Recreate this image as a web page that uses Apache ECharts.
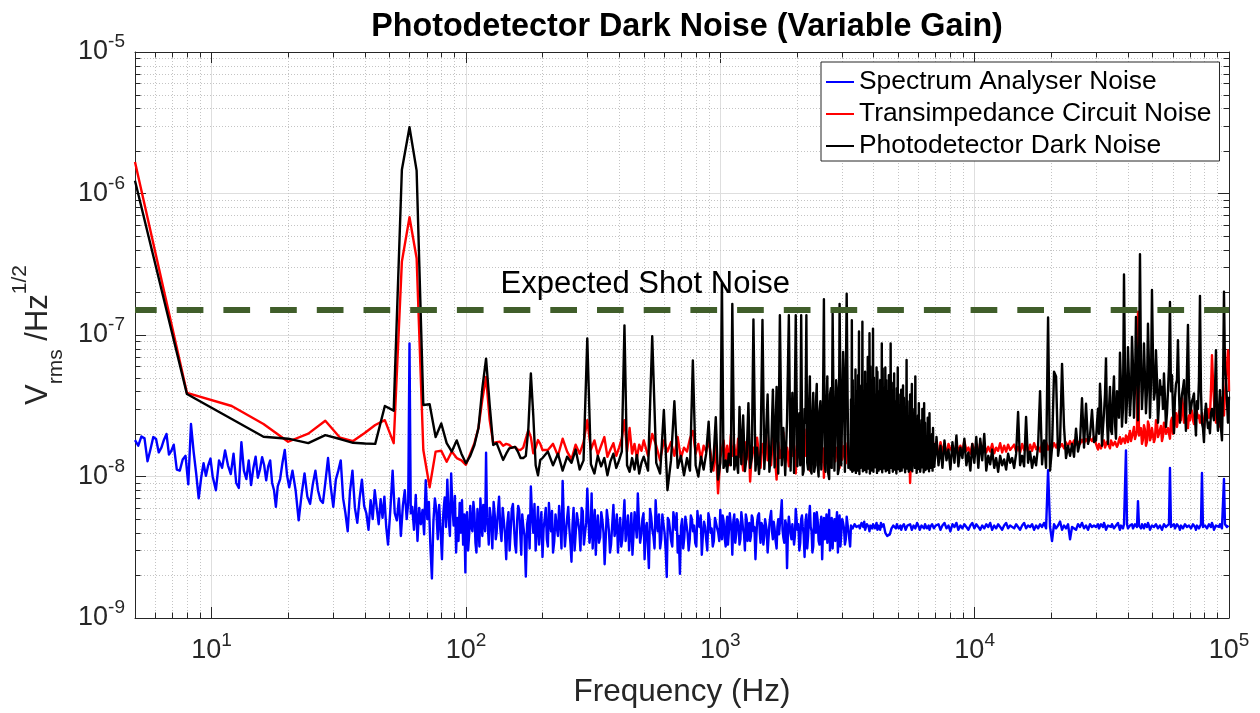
<!DOCTYPE html>
<html>
<head>
<meta charset="utf-8">
<script src="https://cdn.jsdelivr.net/npm/echarts@6/dist/echarts.min.js"></script>
<style>
html,body{margin:0;padding:0;background:#ffffff;}
#chart{width:1260px;height:713px;}
</style>
</head>
<body>
<div id="chart"></div>
<script>
// ---------------- text ----------------
const titleText = 'Photodetector Dark Noise (Variable Gain)';
const seriesNames = ['Spectrum Analyser Noise', 'Transimpedance Circuit Noise', 'Photodetector Dark Noise'];
const xName = 'Frequency (Hz)';
const shotLabel = 'Expected Shot Noise';

// ---------------- axes ----------------
const xRange = [5, 100000];          // Hz
const yRange = [1e-9, 1e-5];         // V/sqrt(Hz)
const minorXTicks = [6,7,8,9,20,30,40,50,60,70,80,90,200,300,400,500,600,700,800,900,
  2000,3000,4000,5000,6000,7000,8000,9000,20000,30000,40000,50000,60000,70000,80000,90000];
const minorYTicks = [2e-9,3e-9,4e-9,5e-9,6e-9,7e-9,8e-9,9e-9,2e-8,3e-8,4e-8,5e-8,6e-8,7e-8,8e-8,9e-8,
  2e-7,3e-7,4e-7,5e-7,6e-7,7e-7,8e-7,9e-7,2e-6,3e-6,4e-6,5e-6,6e-6,7e-6,8e-6,9e-6];

// ---------------- data (values in nV/sqrt(Hz)) ----------------
const NV = 1e-9;
const shotNoise = 150;              // nV/sqrt(Hz)
const shotLabelAt = [507, 226];     // [Hz, nV/sqrt(Hz)]

// spectrum analyser, 5 Hz - 1 kHz : [f, blue]
const blueLow = [
[5,18.1],[5.15,16.5],[5.3,19.2],[5.45,18.6],[5.6,12.8],[5.75,15.5],[5.9,19.0],[6.05,18.4],[6.2,14.8],[6.35,16.0],
[6.5,18.2],[6.65,20.0],[6.8,14.3],[6.95,15.2],[7.1,16.8],[7.3,11.2],[7.5,11.0],[7.7,13.2],[7.9,14.0],[8.1,8.8],
[8.3,23.5],[8.5,15.0],[8.7,10.5],[8.9,7.0],[9.1,9.8],[9.3,12.4],[9.5,10.1],[9.7,12.0],[9.9,13.4],
[10.1,10.0],[10.4,8.0],[10.7,13.0],[11,11.5],[11.3,15.3],[11.6,12.0],[11.9,10.4],[12.2,14.5],[12.5,9.0],[12.8,8.3],
[13.1,17.5],[13.4,11.0],[13.7,9.6],[14,13.0],[14.3,8.7],[14.6,11.5],[14.9,13.8],[15.2,9.8],[15.5,11.2],[15.8,13.7],
[16.1,12.0],[16.4,9.4],[16.7,11.8],[17,13.0],[17.3,9.0],[17.6,8.0],[17.9,6.1],[18.2,8.5],[18.6,9.6],[19,12.5],
[19.4,15.4],[19.8,10.2],
[20.2,8.4],[20.8,11.0],[21.4,8.0],[22,4.9],[22.6,7.5],[23.2,10.5],[23.8,7.2],[24.4,6.4],[25,8.8],[25.6,11.0],
[26.2,8.0],[26.8,6.8],[27.4,6.5],[28,9.0],[28.7,13.5],[29.4,8.5],[30.1,6.1],[30.8,9.5],[31.5,11.0],[32.2,13.0],
[32.9,7.0],[33.6,5.5],[34.3,4.1],[35,7.8],[35.8,11.0],[36.6,6.0],[37.4,4.7],[38.2,7.0],[39,9.5],[39.8,6.2],
[40.6,5.5],[41.4,4.2],[42.2,6.8],[43,5.0],[43.8,8.0],[44.6,6.0],[45.4,4.6],[46.2,6.9],[47,5.1],[47.8,7.2],
[48.6,4.4],[49.4,3.3],
[50.5,6.0],[51.5,11.0],[52.5,5.5],[53.5,4.9],[54.5,7.0],[55.5,3.8],[56.5,6.2],[57.5,8.0],[58.5,5.0],[59.3,6.5],
[60,87],[60.7,5.5],[61.5,6.1],[62.5,4.2],[63.5,7.4],[64.5,3.5],[65.5,6.0],[66.5,4.6],[67.5,5.8],[68.5,3.9],
[69.5,9.4],[70.5,5.0],[71.5,6.6],[72.5,3.2],[73.5,1.9],[74.5,4.8],[75.5,7.0],[76.5,5.8],[77.5,3.6],[78.5,6.3],
[79.5,4.2],[80.5,2.6],[81.5,5.5],[82.5,7.1],[83.5,4.4],[84.5,9.5],[85.5,5.2],[86.5,3.8],[87.5,10.5],[88.5,6.0],
[89.5,4.5],[90.5,7.3],[91.5,2.9],[92.5,5.1],[93.5,3.5],[94.5,6.5],[95.5,4.0],[96.5,6.8],[97.5,3.3],[98.5,5.4],
[99.5,2.1],
[100,4.8],[102,3.0],[104,6.2],[106,4.1],[108,5.5],[110,2.9],[112,4.6],[114,7.0],[116,3.8],[118,5.0],
[120,14.7],[122,4.4],[124,6.0],[127,3.1],[130,5.2],[132,4.0],[135,7.2],[138,3.5],[141,4.8],[144,2.6],
[147,5.6],[150,4.2],[153,6.4],[156,3.3],[159,4.9],[162,5.8],[165,2.8],[168,4.5],[172,1.96],[176,5.3],
[180,8.5],[184,4.0],[188,3.0],[192,6.1],[196,4.4],[200,2.7],[204,5.0],[208,3.6],[212,6.5],[216,4.1],
[220,2.9],[225,5.4],[230,3.8],[235,4.7],[240,9.3],[245,3.2],[250,5.1],[255,4.3],[260,2.5],[265,6.0],
[270,3.9],[276,4.8],[282,3.0],[288,5.7],[294,4.0],[300,8.2],[306,3.4],[312,7.6],[318,4.5],[324,2.8],
[330,5.3],[337,3.7],[344,4.9],[351,2.4],[358,5.8],[365,4.1],[372,3.3],[380,6.3],[388,4.2],[396,2.9],
[404,5.1],[412,3.6],[420,6.8],[429,4.3],[438,3.0],[447,5.5],[456,3.9],[465,4.6],[474,7.6],[484,3.4],
[494,5.0],[504,2.6],[514,4.7],[524,2.25],[535,5.2],[546,3.8],[557,6.8],[568,4.1],[580,3.1],[592,5.4],
[604,4.0],[616,1.95],[628,4.9],[641,3.5],[654,5.6],[667,4.2],[680,2.9],[694,2.05],[708,5.0],[722,3.7],
[736,4.6],[751,3.0],[766,5.3],[781,4.1],[797,3.4],[813,5.7],[829,4.4],[846,2.8],[863,4.8],[880,3.6],
[898,5.5],[916,4.0],[934,3.2],[953,5.1],[972,4.3],[991,3.5]
];
// extra readings between the ones above, 100 Hz - 1 kHz : [f, blue]
const blueLowFill = [
[101,5.6],[103,3.9],[105,4.4],[107,6.6],[109,3.4],[111,5.9],[113,3.2],[115,4.9],[117,6.3],[119,4.1],
[121,5.1],[123,3.3],[125.5,5.0],[128.5,6.6],[131,3.6],[133.5,5.5],[136.5,4.3],[139.5,6.0],[142.5,3.9],[145.5,4.7],
[148.5,3.0],[151.5,5.9],[154.5,4.5],[157.5,2.9],[160.5,6.2],[163.5,4.0],[166.5,5.4],[170,3.8],[174,4.6],[178,3.1],
[182,5.3],[186,6.4],[190,4.2],[194,3.3],[198,5.6],[202,4.3],[206,6.0],[210,3.2],[214,4.8],[218,5.7],
[222.5,3.5],[227.5,4.4],[232.5,6.2],[237.5,3.1],[242.5,5.0],[247.5,4.1],[252.5,6.1],[257.5,3.4],[262.5,4.6],[267.5,3.0],
[273,5.5],[279,4.2],[285,6.0],[291,3.3],[297,4.7],[303,5.2],[309,4.0],[315,3.1],[321,5.8],[327,4.3],
[333.5,3.4],[340.5,5.6],[347.5,4.0],[354.5,3.6],[361.5,5.0],[368.5,2.9],[376,4.6],[384,3.8],[392,5.4],[400,4.1],
[408,3.2],[416,5.0],[424.5,3.5],[433.5,5.3],[442.5,4.0],[451.5,2.8],[460.5,5.6],[469.5,3.7],[479,4.8],[489,3.9],
[499,5.5],[509,4.3],[519,3.3],[529.5,5.9],[540.5,4.2],[551.5,3.1],[562.5,4.7],[574,5.4],[586,3.6],[598,4.6],
[610,3.0],[622,5.1],[634.5,4.2],[647.5,3.2],[660.5,4.9],[673.5,5.5],[687,3.8],[701,4.4],[715,3.1],[729,5.2],
[743.5,4.0],[758.5,3.6],[773.5,5.0],[789,4.5],[805,3.2],[821,4.6],[837.5,5.3],[854.5,3.9],[871.5,4.4],[889,3.0],
[907,5.0],[925,4.3],[943.5,3.5],[962.5,4.7],[981.5,4.0]
];
// extra spectrum analyser readings, 1 kHz - 2 kHz : [f, blue]
const blueHiFill = [
[1007,4.2],[1022,5.3],[1040,3.7],[1057,4.6],[1072,3.3],[1090,5.5],[1107,4.1],[1125,4.8],[1145,3.4],[1165,5.0],
[1182,4.3],[1200,3.6],[1220,4.9],[1240,3.9],[1260,5.4],[1280,3.5],[1300,4.7],[1320,3.8],[1340,5.1],[1362,4.4],
[1385,3.6],[1407,5.3],[1430,4.0],[1452,4.7],[1477,3.3],[1500,5.0],[1522,4.2],[1547,3.6],[1572,5.2],[1597,4.1],
[1622,4.8],[1650,3.5],[1677,4.4],[1702,3.9],[1730,5.5],[1757,4.2],[1785,3.4],[1815,4.6],[1845,4.0],[1875,5.3],
[1905,3.6],[1935,4.5],[1965,3.8],[1995,5.0]
];

// transimpedance / dark noise, 5 Hz - 1 kHz : [f, red, black]
const rbLow = [
[5,1670,1230],[8,39,38.3],[12,31.5,25.5],[16,23.5,19.1],[20,17.6,18.5],[24,20.1,17.2],[28,24.8,19.6],[32,18.8,18.4],
[36,17.8,17.3],[40,20.3,17.1],[44,23.1,17.0],[48,25,31.5],[52,17.2,29.2],[56,330,1470],[60,679,2940],[64,349,1450],
[68,15.4,32],[72,8.4,32.4],[76,15,19.0],[80,15.2,23.7],[84,12.7,17.2],[88,15,15.0],[92,13.5,18.0],[96,13.0,14.5],
[100,12.1,12.4],[104,14.5,14.0],[108,17.2,16.7],[112,22,22],[116,35,42],[120,50.6,68],[124,25,32],[128,17.2,16.7],
[132,17.5,17.2],[136,17.6,15.0],[140,16.5,13.1],[144,17.0,14.5],[148,16.7,15.8],[152,16.0,16.0],[156,16.2,16.2],
[160,15.5,15.0],[164,15.4,13.5],[168,16.0,13.5],[172,18.5,14.0],[176,21.2,22],[180,19,53.5],[184,14.6,27],
[188,16.0,12],[192,18.1,10.2],[196,17.0,13.1],[200,15.4,13.5],
[210,15.4,15.0],[220,17.0,12.0],[230,14.0,14.5],[240,18.5,11.0],[250,15.0,13.8],[260,13.2,12.5],[270,16.8,15.5],
[280,14.5,11.2],[290,17.5,13.0],[300,25,94.6],[310,15.5,12.2],[320,18.0,10.5],[330,14.2,14.0],[340,16.5,11.8],
[350,19.0,13.5],[360,13.8,10.2],[370,15.5,12.8],[380,17.2,14.5],[390,14.0,11.5],[400,16.0,13.0],[410,18.5,15.0],
[420,25,117],[430,15.0,12.0],[440,22,10.8],[450,14.5,13.5],[460,17.0,11.2],[470,13.5,14.2],[480,16.8,10.5],
[490,15.2,12.5],[500,18.0,13.8],[520,14.0,11.0],[540,20,98],[560,16.5,12.5],[580,13.0,10.5],[600,18,29.5],
[620,15.0,8.0],[640,17.5,13.0],[660,14.0,34],[680,19.0,11.5],[700,13.5,14.0],[720,16.0,10.2],[740,15.0,13.5],
[760,18.5,11.0],[780,21,66],[800,14.5,12.0],[820,17.0,10.0],[840,13.2,13.8],[860,16.5,11.2],[880,15.0,14.5],
[900,18.0,24.4],[920,14.0,10.8],[940,11.0,13.0],[960,16.5,26.2],[980,7.6,9.5]
];

// 1 kHz - 3.2 kHz : [f, blue, red, black]
const band1 = [
[1000,5.8,13.5,12.5],[1015,3.6,15.5,232],[1030,4.9,18.0,11.5],[1050,3.2,13.0,13.0],[1065,5.2,16.5,10.8],
[1080,4.0,12.0,14.5],[1100,4.6,19.5,12.0],[1115,2.8,14.0,166],[1135,5.4,16.8,11.2],[1155,3.9,12.5,13.8],
[1175,4.8,18.5,10.6],[1190,3.3,13.8,31],[1210,5.6,15.0,12.2],[1230,4.2,11.0,27],[1250,3.0,17.5,10.9],
[1270,5.0,13.2,14.0],[1290,4.4,20.0,33],[1310,3.5,9.2,11.5],[1330,5.3,14.5,13.5],[1350,4.1,16.0,129],
[1375,2.6,12.8,11.0],[1395,4.7,18.8,16.0],[1420,5.5,14.2,10.4],[1440,3.4,11.5,14.8],[1465,4.5,17.0,128],
[1490,3.8,15.0,11.3],[1510,5.1,21.0,18.0],[1535,2.9,13.0,38],[1560,4.6,16.2,10.8],[1585,5.7,12.0,15.5],
[1610,3.6,19.0,41],[1635,4.3,14.8,11.6],[1665,3.1,9.5,43],[1690,5.0,17.5,10.5],[1715,4.0,13.5,138],
[1745,6.8,15.8,12.0],[1770,3.7,20.5,22],[1800,4.9,12.6,10.2],[1830,2.25,16.0,25],[1860,5.2,11.8,138],
[1890,3.9,18.0,11.0],[1920,4.6,14.0,39],[1950,3.3,16.5,10.6],[1980,5.9,10.5,138],[2010,4.2,19.5,11.8],
[2045,3.0,13.6,28],[2080,5.0,15.5,138],[2110,4.4,12.2,10.3],[2145,2.7,21.5,30],[2180,5.4,14.5,138],
[2215,3.8,17.0,11.2],[2250,6.2,11.0,51],[2285,4.1,16.0,10.5],[2320,3.2,22.5,39],[2360,4.8,13.0,12.0],
[2395,5.6,18.5,45],[2435,3.5,12.0,10.0],[2475,4.5,16.8,34],[2515,2.6,14.0,11.5],[2555,5.1,9.8,179],
[2595,4.0,19.0,10.8],[2635,3.4,13.5,51],[2680,5.8,17.2,9.6],[2720,4.3,12.5,42],[2765,3.1,15.5,142],
[2810,5.0,18.0,11.0],[2855,4.6,13.0,48],[2900,2.9,16.0,10.4],[2945,5.3,11.5,166],[2990,3.9,17.8,12.0],
[3040,4.7,14.2,76],[3090,3.3,16.5,10.8],[3140,5.2,12.8,196],[3190,4.1,15.5,11.5]
];
const band1Fill = [
[2027,4.6,15.0,22],[2062,3.4,17.5,12.0],[2095,5.3,13.8,26],[2127,3.9,16.2,11.0],[2162,4.8,14.0,24],
[2197,3.1,18.2,12.5],[2232,5.0,12.8,30],[2267,4.4,15.6,11.0],[2302,2.9,17.0,27],[2340,5.5,14.2,10.8],
[2377,4.0,16.0,33],[2415,4.9,13.0,12.0],[2455,3.3,17.4,29],[2495,5.2,12.6,11.2],[2535,4.2,15.8,36],
[2575,3.6,14.0,12.0],[2615,5.4,18.0,30],[2657,4.1,12.0,10.5],[2700,3.0,16.6,38],[2742,5.1,14.4,11.5],
[2787,4.4,17.2,32],[2832,3.5,12.8,10.8],[2877,5.6,16.0,40],[2922,4.0,14.6,11.2],[2967,3.2,17.0,35],
[3015,5.0,13.2,12.0],[3065,4.3,16.4,44],[3115,3.6,12.4,11.0],[3165,5.3,17.2,38],[3215,4.0,14.0,12.5]
];

// 3.2 kHz - 7 kHz : [f, blue, red, black]
const band2 = [
[3240,3.2,15.0,12.0],[3290,4.6,12.5,127],[3345,4.3,17.0,11.0],[3400,4.7,13.8,57],[3455,4.4,16.0,12.5],
[3510,4.5,12.0,106],[3565,4.2,18.5,11.5],[3620,4.6,14.0,124],[3680,4.8,15.5,13.0],[3740,4.3,11.5,45],
[3800,4.5,17.2,70],[3860,4.1,13.0,103],[3920,4.4,16.5,11.0],[3985,4.6,14.5,111],[4050,4.3,12.2,12.0],
[4115,4.7,17.8,59],[4180,4.5,13.5,13.5],[4250,4.2,15.8,48],[4315,4.4,12.8,87],[4385,4.6,16.5,12.0],
[4455,4.0,14.0,59],[4530,3.8,18.0,11.5],[4600,3.7,12.5,52],[4675,4.1,15.2,87],[4750,4.4,13.2,12.5],
[4825,4.5,17.0,53.5],[4905,4.3,11.8,13.0],[4985,4.6,15.5,59],[5065,4.4,14.2,11.8],[5145,4.2,16.8,41],
[5230,4.5,12.6,44],[5310,4.7,15.0,12.5],[5400,4.3,13.8,66.5],[5485,4.4,17.5,13.2],[5575,4.6,9.0,38],
[5665,4.2,14.5,45],[5755,4.5,16.2,12.0],[5845,4.3,12.8,51],[5940,4.7,15.4,13.5],[6035,4.4,13.5,33],
[6135,4.1,17.0,12.0],[6230,4.5,12.2,30],[6330,4.3,15.8,33],[6435,4.6,14.0,11.5],[6540,4.4,16.5,26],
[6645,4.2,13.2,28],[6750,4.5,15.0,12.8],[6860,4.6,17.6,22],[6970,4.3,14.5,13.0]
];
const band2Fill = [
[3265,4.5,14.0,35],[3317,4.3,16.4,48],[3372,4.6,13.0,30],[3427,4.4,17.0,40],[3482,4.5,12.6,52],
[3537,4.3,15.8,36],[3592,4.7,13.6,44],[3650,4.4,16.6,38],[3710,4.2,12.4,55],[3770,4.6,15.0,32],
[3830,4.4,17.4,48],[3890,4.5,13.2,60],[3952,4.3,16.0,42],[4017,4.6,12.8,50],[4082,4.4,15.6,38],
[4147,4.2,17.6,55],[4215,4.5,13.0,40],[4282,4.7,16.2,46],[4350,4.3,12.6,58],[4420,4.5,15.2,35],
[4492,4.1,17.0,48],[4565,3.8,13.4,40],[4637,3.9,16.0,44],[4712,4.3,12.8,36],[4787,4.5,15.6,46],
[4865,4.4,13.6,34],[4945,4.6,16.8,42],[5025,4.3,12.4,30],[5105,4.5,15.0,38],[5187,4.4,17.2,28],
[5270,4.6,13.0,36],[5355,4.2,16.4,30],[5442,4.5,12.8,34],[5530,4.4,15.4,26],[5620,4.6,13.8,32],
[5710,4.3,16.6,28],[5800,4.5,12.6,30],[5892,4.4,15.2,24],[5987,4.6,13.4,27],[6085,4.2,16.8,22],
[6182,4.5,12.8,25],[6280,4.4,15.6,21],[6382,4.6,13.2,24],[6487,4.3,16.2,19],[6592,4.5,14.0,22],
[6697,4.4,15.8,18],[6805,4.6,13.6,20],[6915,4.3,16.4,17],[7025,4.5,14.8,15]
];
// extra dark-noise readings (floor of the dense 3.2-7 kHz cluster) : [f, black]
const blackBlobFill = [
[3252,11.2],[3278,12.5],[3303,10.8],[3331,13.0],[3358,11.5],[3386,12.2],[3413,10.6],[3441,13.4],[3468,11.0],[3496,12.0],
[3523,10.4],[3551,12.8],[3578,11.3],[3606,13.2],[3635,10.9],[3665,12.4],[3695,11.1],[3725,13.6],[3755,10.7],[3785,12.1],
[3815,11.4],[3845,13.0],[3875,10.5],[3905,12.6],[3936,11.2],[3968,13.3],[4001,10.8],[4033,12.2],[4066,11.6],[4098,13.1],
[4131,10.6],[4163,12.5],[4197,11.0],[4232,13.5],[4266,11.3],[4298,12.0],[4332,10.7],[4367,12.9],[4402,11.4],[4437,13.2],
[4473,10.9],[4511,12.3],[4547,11.1],[4582,13.0],[4618,10.6],[4656,12.7],[4693,11.5],[4731,13.4],[4768,10.8],[4806,12.1],
[4845,11.2],[4885,13.1],[4925,10.5],[4965,12.6],[5005,11.3],[5045,13.3],[5085,10.9],[5125,12.4],[5166,11.0],[5208,13.0],
[5250,11.6],[5290,12.2],[5332,10.7],[5377,13.2],[5421,11.4],[5463,12.5],[5507,10.8],
[5552,12.9],[5597,11.2],[5642,13.1],[5687,10.9],[5732,12.4],[5822,11.5],[5868,13.0],[5916,10.6],[5963,12.7],
[6011,11.3],[6060,13.4],[6110,10.8],[6158,12.2],[6206,11.6],[6255,13.0],[6305,10.7],[6356,12.5],[6408,11.1],[6461,13.2],
[6513,11.4],[6566,12.1],[6618,10.9],[6671,12.8],[6723,11.5],[6777,12.3],[6832,11.0],[6887,12.9],[6942,11.7]
];

// 7 kHz - 14 kHz : [f, blue, red, black]
const band3 = [
[7080,4.4,16.0,19.0],[7210,4.6,14.5,12.0],[7340,4.2,17.5,16.5],[7470,4.5,15.0,11.5],[7610,4.7,16.8,18.0],
[7750,4.3,14.2,13.0],[7890,4.5,17.0,15.5],[8030,4.1,15.5,11.2],[8180,4.6,16.2,17.5],[8330,4.4,14.0,12.5],
[8480,4.7,17.2,19.5],[8630,4.2,15.0,11.8],[8790,4.5,16.5,16.0],[8950,4.3,14.8,13.5],[9110,4.6,17.8,18.5],
[9280,4.4,15.2,12.0],[9450,4.2,16.0,14.8],[9620,4.5,14.5,11.0],[9790,4.7,17.0,17.0],[9970,4.3,15.0,12.5],
[10150,4.6,16.5,19.0],[10340,4.4,14.2,11.5],[10520,4.2,17.5,18.5],[10710,4.5,15.5,13.0],[10910,4.3,16.8,20.0],
[11110,4.6,14.8,11.0],[11310,4.4,16.2,14.0],[11510,4.7,15.0,12.2],[11720,4.2,17.0,15.5],[11940,4.5,14.6,11.5],
[12150,4.3,16.0,13.5],[12370,4.6,15.2,10.8],[12600,4.4,17.2,14.0],[12830,4.2,14.8,12.0],[13060,4.5,16.5,13.2],
[13300,4.7,15.0,11.2],[13540,4.3,16.8,14.5],[13790,4.5,15.4,12.5]
];

// 14 kHz - 30 kHz : [f, blue, red, black]
const band4 = [
[14040,4.5,15.5,13.5],[14300,4.3,16.8,11.5],[14560,4.6,15.0,14.5],[14820,4.4,16.2,28.6],[15090,4.2,14.8,12.0],
[15370,4.5,17.0,14.0],[15650,4.7,15.4,11.8],[15930,4.3,16.5,26.4],[16220,4.5,15.0,12.5],[16520,4.4,16.8,15.0],
[16820,4.6,15.2,11.5],[17130,4.2,17.2,13.8],[17440,4.5,15.6,12.0],[17760,4.3,16.4,16.5],[18080,4.6,15.0,40],
[18410,4.4,17.0,12.2],[18750,4.7,16.0,18.0],[19090,4.3,17.5,11.5],[19440,11.1,15.5,133],[19790,4.4,16.8,11.0],
[20150,3.5,15.8,16.0],[20520,4.6,17.2,55],[20900,4.3,16.0,51],[21280,4.5,17.5,14.0],[21670,4.8,16.2,18.0],
[22060,4.2,17.0,62.5],[22460,4.5,15.8,22.4],[22870,4.3,17.4,13.5],[23290,4.6,16.4,16.5],[23720,3.6,17.8,14.0],
[24150,4.4,16.5,17.0],[24590,4.5,18.0,13.8],[25040,4.2,16.8,21.8],[25490,4.6,17.6,15.0],[25960,4.4,17.0,17.5],
[26430,4.7,18.2,35.7],[26920,4.3,17.2,16.0],[27410,4.5,18.4,32.7],[27910,4.2,17.5,17.0],[28420,4.6,18.6,19.5],
[28930,4.4,17.8,29.5],[29460,4.5,19.0,17.5]
];

// 30 kHz - 100 kHz : [f, blue, red, black]
const band5 = [
[30000,4.4,17.0,18.0],[30550,4.6,15.5,30.2],[31100,4.3,17.5,45.3],[31670,4.5,16.0,16.5],[32250,4.7,18.0,28],
[32840,4.2,16.5,68.4],[33440,4.5,17.2,17.0],[34050,4.4,15.8,43],[34670,4.6,18.5,20.0],[35300,4.3,16.2,51],
[35950,4.5,17.8,18.5],[36600,4.7,16.8,35],[37270,4.2,19.0,74.9],[37950,4.4,17.0,22.5],[38650,4.6,18.0,268],
[39350,15.3,19.5,24],[40070,4.3,17.5,82],[40800,4.5,21.0,27],[41550,4.6,18.0,97],[42310,4.2,22.4,26],
[43080,4.5,19.0,134],[43870,6.7,146,25],[44670,4.4,21.0,373],[45480,4.6,17.0,30],[46310,4.3,23.0,87],
[47160,4.5,16.5,28],[48020,4.7,24.5,120],[48900,4.2,18.0,26],[49790,4.5,22.0,208],[50700,4.4,17.5,35],
[51630,4.6,25.0,78],[52570,4.3,19.0,24],[53530,4.5,21.5,48],[54510,4.2,17.8,43],[55500,4.6,24.0,53.5],
[56520,4.4,20.0,22.4],[57550,4.5,22.0,40],[58600,11.5,18.5,171],[59670,4.3,26.0,52],[60760,4.6,21.0,20.2],
[61870,4.4,28.0,45],[63000,4.5,23.0,92],[64150,4.2,30.0,24],[65320,4.6,36.0,38],[66520,4.4,24.0,48],
[67730,4.7,27.0,21],[68970,4.3,22.0,118],[70230,4.5,25.0,28],[71510,4.4,29.0,34],[72820,4.6,23.5,38.6],
[74150,4.2,31.0,19.5],[75510,4.5,26.0,30],[76890,4.3,24.0,189],[78290,10.6,28.0,24],[79720,4.4,22.0,17.5],
[81180,4.6,25.5,32.7],[82660,4.3,30.0,22],[84170,4.5,27.0,20.2],[85710,4.7,72.0,30],[87280,4.2,35.0,25],
[88870,4.5,24.0,78],[90490,4.4,30.0,21],[92150,4.6,22.5,40.8],[93830,4.3,36.0,18],[95550,9.6,27.0,202],
[97290,4.5,48.0,48],[99070,4.3,78.0,24],[100000,4.5,40.0,36.6]
];
const band5Fill = [
[30275,4.5,16.2,24],[30825,4.3,17.0,20],[31385,4.6,15.8,33],[31960,4.4,17.4,22],[32545,4.5,16.0,38],
[33140,4.3,17.6,25],[33745,4.6,16.4,30],[34360,4.4,18.0,21],[34985,4.5,16.6,36],[35625,4.2,17.6,24],
[36275,4.6,16.2,40],[36935,4.4,18.2,26],[37610,4.5,17.0,45],[38300,4.3,18.6,30],[39000,4.5,17.2,55],
[39710,4.6,18.8,34],[40435,4.4,19.5,48],[41175,4.5,17.8,38],[41930,4.3,20.5,60],[42695,4.6,18.4,42],
[43475,4.4,21.0,70],[44270,4.5,19.5,52],[45075,4.3,22.0,58],[45895,4.5,18.2,44],[46735,4.6,21.5,50],
[47590,4.4,17.6,40],[48460,4.5,23.0,62],[49345,4.3,19.0,45],[50245,4.6,22.5,70],[51165,4.4,18.6,40],
[52100,4.5,24.0,48],[53050,4.3,20.0,32],[54020,4.6,22.8,38],[55005,4.4,19.2,30],[56010,4.5,23.5,36],
[57035,4.3,20.5,28],[58075,4.6,22.0,60],[59135,4.4,24.5,40],[60215,4.5,20.0,30],[61315,4.3,26.0,36],
[62435,4.6,22.4,48],[63575,4.4,28.5,40],[64735,4.5,25.0,32],[65920,4.3,32.0,42],[67125,4.6,26.0,30],
[68350,4.4,24.0,55],[69600,4.5,27.0,40],[70870,4.3,30.0,30],[72165,4.6,25.0,36],[73485,4.4,28.0,26],
[74830,4.5,32.0,34],[76200,4.3,27.0,48],[77590,4.6,25.0,40],[79005,4.4,23.0,22],[80450,4.5,27.0,28],
[81920,4.3,29.0,26],[83415,4.6,26.0,24],[84940,4.4,40.0,28],[86495,4.5,48.0,30],[88075,4.3,28.0,40],
[89680,4.6,26.0,28],[91320,4.4,32.0,30],[92990,4.5,25.0,22],[94690,4.3,30.0,40],[96420,4.6,38.0,60],
[98180,4.4,60.0,34],[99535,4.5,70.0,30]
];

// ---------------- build series ----------------
const byFreq = (a, b) => a[0] - b[0];
const hiBands = band1.concat(band1Fill, band2, band2Fill, band3, band4, band5, band5Fill).sort(byFreq);
const blueData = blueLow.concat(blueLowFill, blueHiFill).map(r => [r[0], r[1] * NV])
  .concat(hiBands.map(r => [r[0], r[1] * NV])).sort(byFreq);
const redData = rbLow.map(r => [r[0], r[1] * NV]).concat(hiBands.map(r => [r[0], r[2] * NV])).sort(byFreq);
const blackData = rbLow.map(r => [r[0], r[2] * NV]).concat(hiBands.map(r => [r[0], r[3] * NV]),
  blackBlobFill.map(r => [r[0], r[1] * NV])).sort(byFreq);
const shotData = [[xRange[0], shotNoise * NV], [xRange[1], shotNoise * NV]];
const minorData = minorXTicks.map(v => [v, 1e-7, 0]).concat(minorYTicks.map(v => [10, v, 1]));

const FONT = "'Liberation Sans', Arial, Helvetica, sans-serif";
const AX = '#262626';
const LW = 2.4;

function powLabel(v) {
  const e = Math.round(Math.log10(v));
  const p = Math.pow(10, e);
  if (Math.abs(v - p) > 1e-6 * p) return '';
  return '{b|10}{s|' + e + '}';
}
const labelRich = {
  b: {fontSize: 27, lineHeight: 27, color: AX, fontFamily: FONT, verticalAlign: 'bottom'},
  s: {fontSize: 19, lineHeight: 19, color: AX, fontFamily: FONT, verticalAlign: 'bottom', padding: [0, 0, 14, 0]}
};

function renderMinor(params, api) {
  const cs = params.coordSys;
  const kind = api.value(2);
  const dotted = {stroke: '#c4c4c4', lineWidth: 1, lineDash: [1, 2]};
  const tick = {stroke: AX, lineWidth: 1};
  if (kind === 0) {
    const x = Math.round(api.coord([api.value(0), 1e-7])[0]) + 0.5;
    const y0 = cs.y, y1 = cs.y + cs.height;
    return {type: 'group', children: [
      {type: 'line', shape: {x1: x, y1: y0, x2: x, y2: y1}, style: dotted},
      {type: 'line', shape: {x1: x, y1: y1, x2: x, y2: y1 - 5.5}, style: tick},
      {type: 'line', shape: {x1: x, y1: y0, x2: x, y2: y0 + 5.5}, style: tick}
    ]};
  }
  const y = Math.round(api.coord([10, api.value(1)])[1]) + 0.5;
  const x0 = cs.x, x1 = cs.x + cs.width;
  return {type: 'group', children: [
    {type: 'line', shape: {x1: x0, y1: y, x2: x1, y2: y}, style: dotted},
    {type: 'line', shape: {x1: x0, y1: y, x2: x0 + 5.5, y2: y}, style: tick},
    {type: 'line', shape: {x1: x1, y1: y, x2: x1 - 5.5, y2: y}, style: tick}
  ]};
}

const baseX = {
  type: 'log', logBase: 10, min: xRange[0], max: xRange[1],
  axisLine: {show: true, lineStyle: {color: AX, width: 1}},
  axisTick: {show: true, inside: true, length: 11, lineStyle: {color: AX, width: 1}},
  minorTick: {show: false}, minorSplitLine: {show: false}
};
const baseY = {
  type: 'log', logBase: 10, min: yRange[0], max: yRange[1],
  axisLine: {show: true, lineStyle: {color: AX, width: 1}},
  axisTick: {show: true, inside: true, length: 11, lineStyle: {color: AX, width: 1}},
  minorTick: {show: false}, minorSplitLine: {show: false}
};

const option = {
  backgroundColor: '#ffffff',
  animation: false,
  textStyle: {fontFamily: FONT},
  title: {
    text: titleText, left: 682, top: 6, textAlign: 'center',
    textStyle: {fontFamily: FONT, fontSize: 32.3, fontWeight: 'bold', color: '#000000'}
  },
  legend: {
    data: seriesNames, orient: 'vertical', left: 821, top: 62,
    icon: 'rect', itemWidth: 28, itemHeight: 2, itemGap: 4,
    padding: [6, 8, 1, 5], borderColor: AX, borderWidth: 1, backgroundColor: '#ffffff',
    selectedMode: false,
    textStyle: {fontFamily: FONT, fontSize: 26.4, lineHeight: 28, color: '#000000'}
  },
  grid: {left: 135, right: 31, top: 52, bottom: 95, containLabel: false, outerBoundsMode: 'none'},
  xAxis: [
    Object.assign({}, baseX, {
      position: 'bottom',
      name: xName, nameLocation: 'middle', nameGap: 58,
      nameTextStyle: {fontFamily: FONT, fontSize: 31.5, color: AX},
      axisLabel: {show: true, margin: 19, formatter: powLabel, rich: labelRich, color: AX},
      splitLine: {show: true, lineStyle: {color: '#dedede', width: 1}}
    }),
    Object.assign({}, baseX, {
      position: 'top', axisLabel: {show: false}, splitLine: {show: false}
    })
  ],
  yAxis: [
    Object.assign({}, baseY, {
      position: 'left',
      name: '{v|V}{sub|rms}{v| /Hz}{sup|1/2}', nameLocation: 'middle', nameGap: 67, nameRotate: 90,
      nameTextStyle: {
        fontFamily: FONT, color: AX,
        rich: {
          v: {fontSize: 31, lineHeight: 31, color: AX, fontFamily: FONT, verticalAlign: 'middle'},
          sub: {fontSize: 21, lineHeight: 21, color: AX, fontFamily: FONT, verticalAlign: 'middle', padding: [36, 0, 0, 0]},
          sup: {fontSize: 21, lineHeight: 21, color: AX, fontFamily: FONT, verticalAlign: 'middle', padding: [0, 0, 36, 0]}
        }
      },
      axisLabel: {show: true, margin: 10, formatter: powLabel, rich: labelRich, color: AX},
      splitLine: {show: true, lineStyle: {color: '#dedede', width: 1}}
    }),
    Object.assign({}, baseY, {
      position: 'right', axisLabel: {show: false}, splitLine: {show: false}
    })
  ],
  series: [
    {
      name: 'minor', type: 'custom', renderItem: renderMinor, data: minorData,
      dimensions: ['x', 'y', 'k'], encode: {x: 0, y: 1}, silent: true, z: 1, clip: false
    },
    {
      name: seriesNames[0], type: 'line', data: blueData, symbol: 'none', showSymbol: false,
      lineStyle: {color: '#0000ff', width: LW, join: 'round'}, itemStyle: {color: '#0000ff'},
      silent: true, z: 3
    },
    {
      name: seriesNames[1], type: 'line', data: redData, symbol: 'none', showSymbol: false,
      lineStyle: {color: '#ff0000', width: LW, join: 'round'}, itemStyle: {color: '#ff0000'},
      silent: true, z: 4
    },
    {
      name: seriesNames[2], type: 'line', data: blackData, symbol: 'none', showSymbol: false,
      lineStyle: {color: '#000000', width: LW, join: 'round'}, itemStyle: {color: '#000000'},
      silent: true, z: 5
    },
    {
      name: 'shot', type: 'line', data: shotData, symbol: 'none', showSymbol: false,
      lineStyle: {color: '#405e2a', width: 6, type: [26.7, 20], dashOffset: 5, cap: 'butt'},
      silent: true, z: 6
    },
    {
      name: 'shotLabel', type: 'scatter', data: [[shotLabelAt[0], shotLabelAt[1] * NV]],
      symbolSize: 1, itemStyle: {color: 'rgba(0,0,0,0)', opacity: 1}, silent: true, z: 7,
      label: {show: true, position: 'inside', formatter: shotLabel, opacity: 1,
        fontFamily: FONT, fontSize: 31, color: '#000000', textBorderWidth: 0}
    }
  ]
};

const chart = echarts.init(document.getElementById('chart'), null, {renderer: 'canvas'});
chart.setOption(option);
</script>
</body>
</html>
